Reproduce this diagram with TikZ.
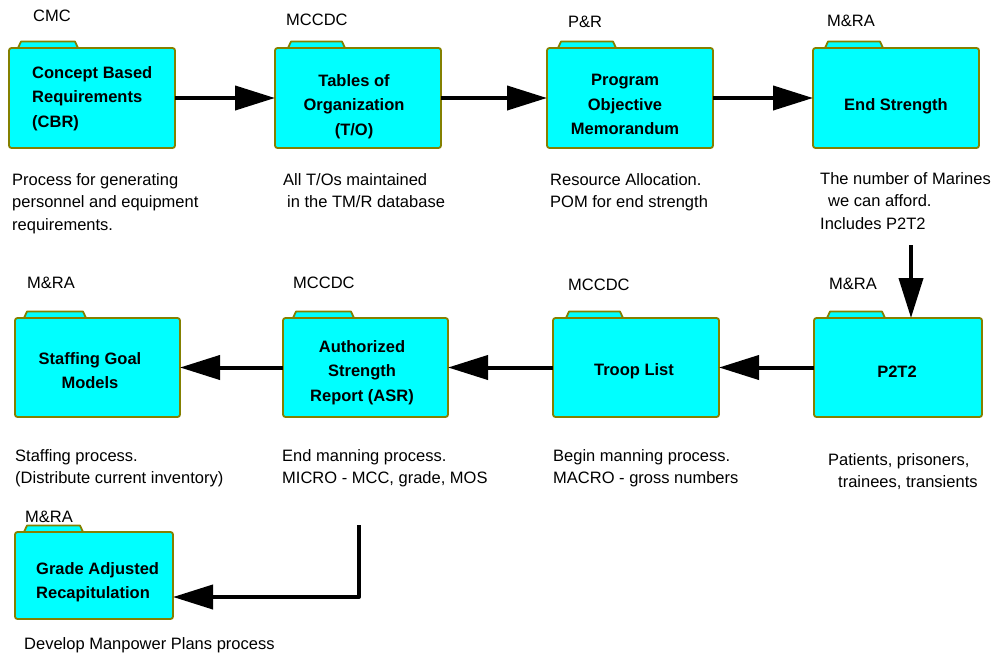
\documentclass[tikz,border=0pt]{standalone}
\usepackage{fontspec}
\setmainfont{Liberation Sans}
\usetikzlibrary{arrows.meta,calc}
\definecolor{cyanc}{RGB}{0,255,255}
\definecolor{olivec}{RGB}{132,128,0}
\tikzset{
  tabstyle/.style={fill=cyanc, draw=olivec, line width=1.8pt, line join=round},
  bodystyle/.style={rectangle, rounded corners=2.5pt, fill=cyanc, draw=olivec, line width=1.8pt, inner sep=0pt, outer sep=0pt},
  bt/.style={font=\fontsize{16.5}{24.5}\selectfont\bfseries, inner sep=0pt, align=center, anchor=north},
  btl/.style={font=\fontsize{16.5}{24.5}\selectfont\bfseries, inner sep=0pt, align=left, anchor=north west},
  own/.style={font=\fontsize{16.5}{19}\selectfont, inner sep=0pt, anchor=west},
  desc/.style={font=\fontsize{16.5}{22.5}\selectfont, inner sep=0pt, align=left, anchor=north west},
  conn/.style={line width=4pt, -{Triangle[length=40pt,width=24pt]}},
}
\newcommand\folderbox[7]{%
  \filldraw[tabstyle] (#6,#3) -- ({#6+3},{#3-6.5}) -- ({#7-3},{#3-6.5}) -- (#7,#3) -- cycle;
  \node[bodystyle, minimum width={(#4-#2)*1pt}, minimum height={(#5-#3)*1pt}] (#1) at ({(#2+#4)/2},{(#3+#5)/2}) {};
}
\begin{document}
\begin{tikzpicture}[x=1pt,y=-1pt]
\useasboundingbox (0,0) rectangle (995,656);
% folders
\folderbox{b1}{9}{48}{175}{148}{18}{78}
\folderbox{b2}{275}{48}{441}{148}{288}{345}
\folderbox{b3}{547}{48}{713}{148}{558}{616}
\folderbox{b4}{813}{48}{979}{148}{825}{883}
\folderbox{b5}{15}{318}{180}{417}{24}{86}
\folderbox{b6}{283}{318}{448}{417}{293}{354}
\folderbox{b7}{553}{318}{719}{417}{566}{623}
\folderbox{b8}{814}{318}{982}{417}{827}{885}
\folderbox{b9}{15}{532}{173}{619}{24}{83}
% box texts
\node[btl] (t1) at (32,66) {Concept Based\\Requirements\\(CBR)};
\node[bt] (t2) at (354,74) {Tables of\\Organization\\(T/O)};
\node[bt] (t3) at (625,74) {Program\\Objective\\Memorandum};
\node[bt] (t4) at (896,98) {End Strength};
\node[bt] (t5) at (90,352) {Staffing Goal\\Models};
\node[bt] (t6) at (362,340) {Authorized\\Strength\\Report (ASR)};
\node[bt] (t7) at (634,363) {Troop List};
\node[bt] (t8) at (897,366) {P2T2};
\node[btl] (t9) at (36,562) {Grade Adjusted\\Recapitulation};
% owner labels
\node[own] (o1) at (33,16) {CMC};
\node[own] (o2) at (286,20) {MCCDC};
\node[own] (o3) at (568,22) {P\&R};
\node[own] (o4) at (827,21) {M\&RA};
\node[own] (o5) at (27,283) {M\&RA};
\node[own] (o6) at (293,283) {MCCDC};
\node[own] (o7) at (568,285) {MCCDC};
\node[own] (o8) at (829,284) {M\&RA};
\node[own] (o9) at (25,517) {M\&RA};
% descriptions
\node[desc] (d1) at (12,173) {Process for generating\\personnel and equipment\\requirements.};
\node[desc] (d2) at (283,173) {All T/Os maintained\\\hspace*{4pt}in the TM/R database};
\node[desc] (d3) at (550,173) {Resource Allocation.\\POM for end strength};
\node[desc] (d4) at (820,172) {The number of Marines\\\hspace*{8pt}we can afford.\\Includes P2T2};
\node[desc] (d5) at (15,449) {Staffing process.\\(Distribute current inventory)};
\node[desc] (d6) at (282,449) {End manning process.\\MICRO - MCC, grade, MOS};
\node[desc] (d7) at (553,449) {Begin manning process.\\MACRO - gross numbers};
\node[desc] (d8) at (828,453) {Patients, prisoners,\\\hspace*{10pt}trainees, transients};
\node[desc] (d9) at (24,637) {Develop Manpower Plans process};
% connectors
\coordinate (c1) at (911,245);
\coordinate (c2) at (359,525);
\draw[conn] (b1.east) -- (b2.west);
\draw[conn] (b2.east) -- (b3.west);
\draw[conn] (b3.east) -- (b4.west);
\draw[conn] (c1) -- (c1 |- b8.north);
\draw[conn] (b8.west) -- (b7.east);
\draw[conn] (b7.west) -- (b6.east);
\draw[conn] (b6.west) -- (b5.east);
\draw[conn, line join=round] (c2) |- ([yshift=-21.5pt]b9.east);
\end{tikzpicture}
\end{document}
